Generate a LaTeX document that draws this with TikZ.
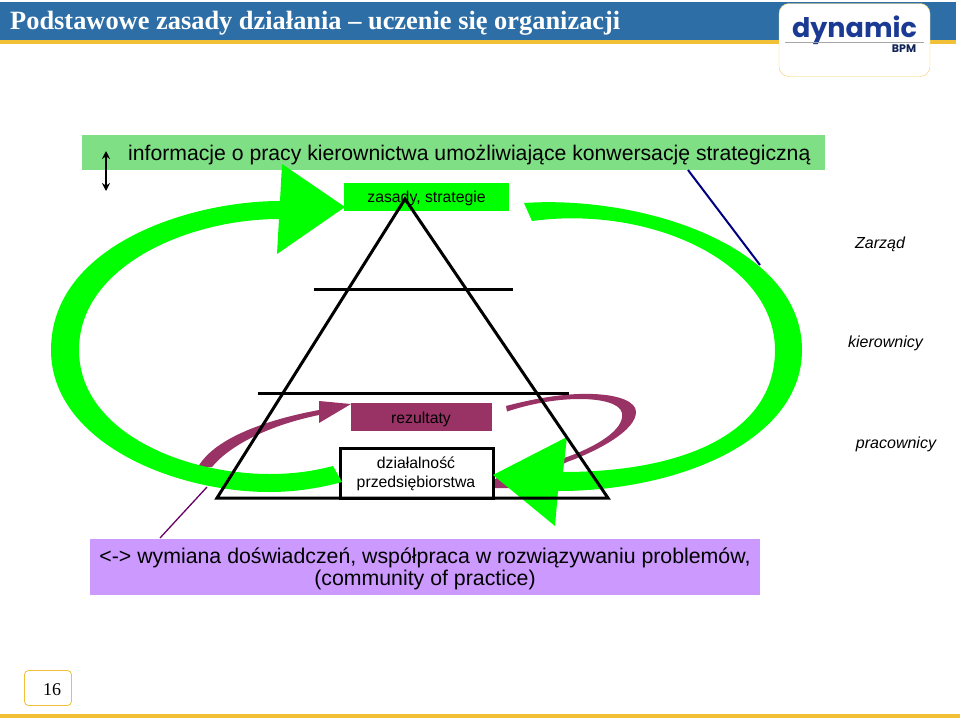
\documentclass[tikz,border=0pt]{standalone}
\usepackage{fontspec}
\setmainfont{Liberation Sans}
\newfontfamily\titlefont{Liberation Serif}
\newfontfamily\logofont{Poppins}
\usepackage{tikz}
\usetikzlibrary{arrows.meta}
\definecolor{barblue}{HTML}{2E6EA6}
\definecolor{baryellow}{HTML}{F2C037}
\definecolor{softgreen}{HTML}{7FDF85}
\definecolor{loopgreen}{HTML}{00FF00}
\definecolor{plum}{HTML}{993366}
\definecolor{darkplum}{HTML}{660066}
\definecolor{lilac}{HTML}{CC99FF}
\definecolor{logoblue}{HTML}{1B3A94}
\tikzset{
    tag/.style={font=\fontsize{16}{16}\selectfont\itshape, anchor=center},
    band/.style={inner sep=0pt, outer sep=0pt, anchor=north west},
    frame/.style={draw=black, line width=3pt},
}
\begin{document}
\begin{tikzpicture}[x=1pt,y=-1pt]
\useasboundingbox (0,0) rectangle (960,720);
% header
\fill[barblue] (0,2) rectangle (956,40);
\fill[baryellow] (0,40) rectangle (956,44);
\node[anchor=west, text=white, inner sep=0pt] (title) at (10,23)
    {\titlefont\bfseries\fontsize{26.4}{26.4}\selectfont Podstawowe zasady działania – uczenie się organizacji};
\node[draw=baryellow!80!white, fill=white, rounded corners=10pt, minimum width=151pt, minimum height=73pt, band] (logo) at (779,3.5) {};
\node[text=logoblue, inner sep=0pt] (dynamic) at (854.5,30) {\logofont\bfseries\fontsize{27}{27}\selectfont dynamic};
\draw[gray!70] (785,42) -- (924,42);
\node[text=logoblue!60!black, inner sep=0pt] (bpm) at (904,49) {\logofont\bfseries\fontsize{11}{11}\selectfont BPM};
% top band
\node[band, fill=softgreen, minimum width=743pt, minimum height=35pt] (info) at (82,135) {};
\node[anchor=west, inner sep=0pt] (infotext) at (128,155)
    {\fontsize{21.2}{21.2}\selectfont informacje o pracy kierownictwa umożliwiające konwersację strategiczną};
\coordinate (updown) at (106,151);
\coordinate (updownend) at (106,191);
\draw[{Stealth[length=8pt,width=8pt]}-{Stealth[length=8pt,width=8pt]}, line width=1.5pt] (updown) -- (updownend);
% plum loops
\fill[plum] (351,404) -- (319,401) -- (319,410)
    .. controls (270,419) and (215,437) .. (198,467)
    -- (212,467) .. controls (230,445) and (270,425) .. (319,415)
    -- (319,423) -- cycle;
\fill[plum] (506,406) .. controls (540,397) and (570,393) .. (593,394)
    .. controls (620,395) and (636,402) .. (636,412)
    .. controls (636,430) and (600,450) .. (567,462)
    -- (515,488) -- (481,488) -- (497,478) -- (567,457)
    .. controls (595,447) and (625,430) .. (622,413)
    .. controls (620,403) and (600,399) .. (580,399)
    .. controls (555,399) and (530,404) .. (507,411.5) -- cycle;
% pyramid
\node[band, fill=loopgreen, minimum width=165pt, minimum height=28pt] (rules) at (344,183) {};
\node[font=\fontsize{15.8}{15.8}\selectfont, inner sep=0pt] (rulestext) at (426.5,198.5) {zasady, strategie};
\node[band, fill=plum, minimum width=141pt, minimum height=28pt] (results) at (351,403) {};
\node[font=\fontsize{15.8}{15.8}\selectfont, inner sep=0pt] (resultstext) at (421,419) {rezultaty};
\node[band, frame, fill=white, minimum width=153pt, minimum height=50pt] (business) at (340,448) {};
\node[font=\fontsize{15.8}{19}\selectfont, align=center, inner sep=0pt] (businesstext) at (416,473.5) {działalność\\przedsiębiorstwa};
% green loops
\fill[loopgreen] (345,207) -- (282,164) -- (280,201)
    .. controls (190,201) and (51,245) .. (51,350)
    .. controls (51,440) and (170,492) .. (270,492)
    .. controls (295,492) and (320,488) .. (342,482)
    -- (333,466) .. controls (310,472) and (290,474) .. (270,474)
    .. controls (180,474) and (79,430) .. (79,350)
    .. controls (79,265) and (190,219) .. (279,219)
    -- (277,254) -- cycle;
\fill[loopgreen] (524,203) .. controls (640,195) and (802,245) .. (802,350)
    .. controls (802,440) and (680,491) .. (558,491)
    -- (555,526) -- (493,475) -- (567,437) -- (563,472)
    .. controls (680,472) and (775,435) .. (775,350)
    .. controls (775,262) and (650,205) .. (532,221) -- cycle;
% triangle and levels
\coordinate (apex) at (405,199);
\coordinate (baseleft) at (217,498);
\coordinate (baseright) at (608,498);
\draw[frame, line join=miter] (apex) -- (baseright) -- (baseleft) -- cycle;
\coordinate (upperl) at (314,289);
\coordinate (upperr) at (513,289);
\coordinate (lowerl) at (258,393);
\coordinate (lowerr) at (569,393);
\draw[frame] (upperl) -- (upperr);
\draw[frame] (lowerl) -- (lowerr);
% side lines
\coordinate (navytop) at (688,170);
\coordinate (navyend) at (760,265);
\draw[draw=blue!50!black, line width=2pt] (navytop) -- (navyend);
\coordinate (thinend) at (160,538);
\coordinate (thintop) at (207,487);
\draw[draw=darkplum, line width=1.3pt] (thinend) -- (thintop);
% labels
\node[tag] (board) at (880,244) {Zarząd};
\node[tag] (managers) at (885.5,343) {kierownicy};
\node[tag] (staff) at (896,444) {pracownicy};
% bottom band
\node[band, fill=lilac, minimum width=670pt, minimum height=56pt] (practice) at (90,539) {};
\node[font=\fontsize{21.3}{22.5}\selectfont, align=center, inner sep=0pt] (practicetext) at (425,569)
    {<-> wymiana doświadczeń, współpraca w rozwiązywaniu problemów,\\(community of practice)};
% footer
\node[band, draw=baryellow, fill=white, rounded corners=4pt, line width=0.8pt, minimum width=47pt, minimum height=35pt] (pagebox) at (24.5,670.5) {};
\node[font=\titlefont\fontsize{18}{18}\selectfont, inner sep=0pt] (pagenum) at (52,690) {16};
\fill[baryellow] (0,714) rectangle (960,718);
\end{tikzpicture}
\end{document}
